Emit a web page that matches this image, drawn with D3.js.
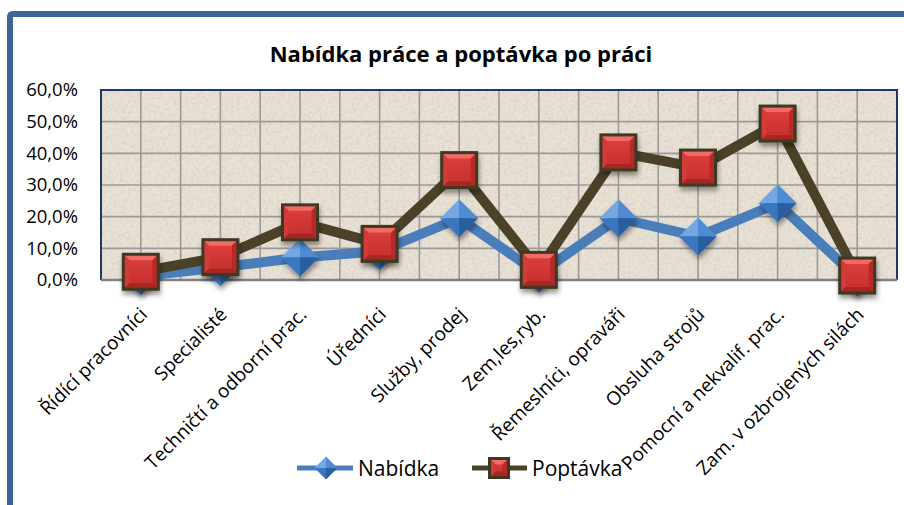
<!DOCTYPE html>
<meta charset="utf-8">
<head>
    <script type="text/javascript" src="https://cdn.jsdelivr.net/npm/d3@7"></script>
    <style>
        body { margin: 0; background: #fff; overflow: hidden; }
        svg { display: block; }
        text { font-family: "Open Sans", sans-serif; fill: #000; }
    </style>
    <title>Nabídka práce a poptávka po práci</title>
</head>
<body>
<script>

    // data (percent)
    var categories = ["Řídící pracovníci", "Specialisté", "Techničtí a odborní prac.", "Úředníci",
        "Služby, prodej", "Zem,les,ryb.", "Řemeslníci, opraváři", "Obsluha strojů",
        "Pomocní a nekvalif. prac.", "Zam. v ozbrojených silách"];
    var nabidka = [1.2, 4.0, 7.1, 9.1, 19.5, 2.0, 19.5, 13.7, 24.2, 0.7];
    var poptavka = [2.6, 7.2, 18.2, 11.4, 34.7, 3.2, 40.3, 35.5, 49.4, 1.4];
    var yTicks = [0, 10, 20, 30, 40, 50, 60];

    var width = 904, height = 505;
    var plot = {left: 101, top: 90, right: 897, bottom: 280};

    var svg = d3.select("body").append("svg")
        .attr("width", width)
        .attr("height", height);

    var defs = svg.append("defs");

    // paper-like texture for the plot area
    var tex = defs.append("filter").attr("id", "paper")
        .attr("x", 0).attr("y", 0).attr("width", 1).attr("height", 1);
    tex.append("feTurbulence").attr("type", "fractalNoise")
        .attr("baseFrequency", 0.35).attr("numOctaves", 3).attr("seed", 4).attr("result", "n");
    tex.append("feColorMatrix").attr("in", "n").attr("type", "matrix")
        .attr("values", "0 0 0 0 0.45  0 0 0 0 0.40  0 0 0 0 0.32  0 0 0 -1.6 0.95");

    var shadow = defs.append("filter").attr("id", "shadow")
        .attr("x", "-50%").attr("y", "-50%").attr("width", "200%").attr("height", "200%");
    shadow.append("feDropShadow").attr("dx", 1).attr("dy", 4).attr("stdDeviation", 2.5)
        .attr("flood-color", "#000").attr("flood-opacity", 0.4);

    var redGrad = defs.append("linearGradient").attr("id", "redGrad")
        .attr("x1", 0).attr("y1", 0).attr("x2", 0).attr("y2", 1);
    redGrad.append("stop").attr("offset", "0%").attr("stop-color", "#e0403e");
    redGrad.append("stop").attr("offset", "100%").attr("stop-color", "#c22e2c");

    // outer chart frame, only top and left are inside the picture
    svg.append("path")
        .attr("d", `M10,${height + 10}V17Q10,14 13,14H${width + 10}`)
        .attr("fill", "none")
        .attr("stroke", "#3c6496")
        .attr("stroke-width", 6);

    svg.append("text")
        .attr("x", 461).attr("y", 62)
        .attr("text-anchor", "middle")
        .attr("font-size", "22px")
        .attr("font-weight", "bold")
        .text("Nabídka práce a poptávka po práci");

    var x = d3.scaleBand().domain(categories).range([plot.left, plot.right]);
    var y = d3.scaleLinear().domain([0, 60]).range([plot.bottom, plot.top]);
    var cx = function (d, i) { return x(categories[i]) + x.bandwidth() / 2; };

    // plot background
    svg.append("rect")
        .attr("x", plot.left).attr("y", plot.top)
        .attr("width", plot.right - plot.left).attr("height", plot.bottom - plot.top)
        .attr("fill", "#e8e1d5");
    svg.append("rect")
        .attr("x", plot.left).attr("y", plot.top)
        .attr("width", plot.right - plot.left).attr("height", plot.bottom - plot.top)
        .attr("filter", "url(#paper)")
        .attr("opacity", 0.35);

    // grid: horizontal at ticks, vertical at every half category
    var grid = svg.append("g").attr("stroke", "#9c9a98").attr("stroke-width", 1.6);
    grid.selectAll("line.h").data(yTicks.slice(1)).join("line")
        .attr("class", "h")
        .attr("x1", plot.left).attr("x2", plot.right)
        .attr("y1", d => y(d)).attr("y2", d => y(d));
    var halfSteps = d3.range(1, categories.length * 2);
    grid.selectAll("line.v").data(halfSteps).join("line")
        .attr("class", "v")
        .attr("x1", d => plot.left + d * x.bandwidth() / 2)
        .attr("x2", d => plot.left + d * x.bandwidth() / 2)
        .attr("y1", plot.top).attr("y2", plot.bottom);

    // plot border
    svg.append("path")
        .attr("d", `M${plot.left},${plot.bottom}V${plot.top}H${plot.right}V${plot.bottom}`)
        .attr("fill", "none").attr("stroke", "#1f3a60").attr("stroke-width", 2);
    svg.append("line")
        .attr("x1", plot.left).attr("x2", plot.right)
        .attr("y1", plot.bottom).attr("y2", plot.bottom)
        .attr("stroke", "#7d8086").attr("stroke-width", 2.5);

    // y axis
    var yAxis = svg.append("g")
        .attr("transform", `translate(${plot.left},0)`)
        .call(d3.axisLeft(y).tickValues(yTicks).tickSize(0).tickPadding(23)
            .tickFormat(d => d.toFixed(1).replace(".", ",") + "%"));
    yAxis.select(".domain").remove();
    yAxis.selectAll("text").attr("font-size", "18.5px").attr("font-family", "Open Sans");

    // x axis
    var xAxis = svg.append("g")
        .attr("transform", `translate(0,${plot.bottom})`)
        .call(d3.axisBottom(x).tickSize(0));
    xAxis.select(".domain").remove();
    xAxis.selectAll("text")
        .attr("font-size", "19px").attr("font-family", "Open Sans")
        .attr("text-anchor", "end")
        .attr("y", 0).attr("dy", "0.35em")
        .attr("transform", "translate(3,31) rotate(-45)");

    var line = d3.line().x(cx).y(d => y(d));

    // marker shapes
    function diamond(g, s) {
        var h = s / 2;
        g.append("path").attr("d", `M0,0L${-h},0L0,${-h}Z`).attr("fill", "#73a8e4");
        g.append("path").attr("d", `M0,0L0,${-h}L${h},0Z`).attr("fill", "#4f8bd2");
        g.append("path").attr("d", `M0,0L${-h},0L0,${h}Z`).attr("fill", "#3a76c0");
        g.append("path").attr("d", `M0,0L0,${h}L${h},0Z`).attr("fill", "#2b5e9f");
    }
    function square(g, s) {
        var h = s / 2, b = 6;
        g.append("rect").attr("x", -h).attr("y", -h).attr("width", s).attr("height", s)
            .attr("fill", "url(#redGrad)");
        g.append("path").attr("d", `M${-h},${-h}H${h}L${h - b},${-h + b}H${-h + b}Z`).attr("fill", "#f26a66");
        g.append("path").attr("d", `M${-h},${-h}L${-h + b},${-h + b}V${h - b}L${-h},${h}Z`).attr("fill", "#d23b39");
        g.append("path").attr("d", `M${h},${-h}L${h - b},${-h + b}V${h - b}L${h},${h}Z`).attr("fill", "#b52a28");
        g.append("path").attr("d", `M${-h},${h}H${h}L${h - b},${h - b}H${-h + b}Z`).attr("fill", "#a72523");
        g.append("rect").attr("x", -h).attr("y", -h).attr("width", s).attr("height", s)
            .attr("fill", "none").attr("stroke", "#3f3821").attr("stroke-width", 3);
    }

    // Nabídka
    svg.append("path").datum(nabidka)
        .attr("d", line).attr("fill", "none")
        .attr("stroke", "#4a7ebb").attr("stroke-width", 10).attr("stroke-linejoin", "round");
    svg.selectAll("g.nab").data(nabidka).join("g")
        .attr("class", "nab")
        .attr("filter", "url(#shadow)")
        .attr("transform", (d, i) => `translate(${cx(d, i)},${y(d)})`)
        .each(function () { diamond(d3.select(this), 38); });

    // Poptávka
    svg.append("path").datum(poptavka)
        .attr("d", line).attr("fill", "none")
        .attr("stroke", "#4a4128").attr("stroke-width", 10).attr("stroke-linejoin", "round");
    svg.selectAll("g.pop").data(poptavka).join("g")
        .attr("class", "pop")
        .attr("filter", "url(#shadow)")
        .attr("transform", (d, i) => `translate(${cx(d, i)},${y(d)})`)
        .each(function () { square(d3.select(this), 35); });

    // legend
    var legend = svg.append("g");
    legend.append("line").attr("x1", 297).attr("x2", 353).attr("y1", 468).attr("y2", 468)
        .attr("stroke", "#4a7ebb").attr("stroke-width", 5);
    diamond(legend.append("g").attr("transform", "translate(326,468)"), 23);
    legend.append("text").attr("x", 358).attr("y", 476).attr("font-size", "21px").text("Nabídka");

    legend.append("line").attr("x1", 472).attr("x2", 527).attr("y1", 468).attr("y2", 468)
        .attr("stroke", "#4a4128").attr("stroke-width", 5);
    square(legend.append("g").attr("transform", "translate(499,468)"), 19);
    legend.append("text").attr("x", 532).attr("y", 476).attr("font-size", "21px").text("Poptávka");

    // x labels sit over the legend in the original, so raise them
    xAxis.raise();

</script>
</body>
</html>
